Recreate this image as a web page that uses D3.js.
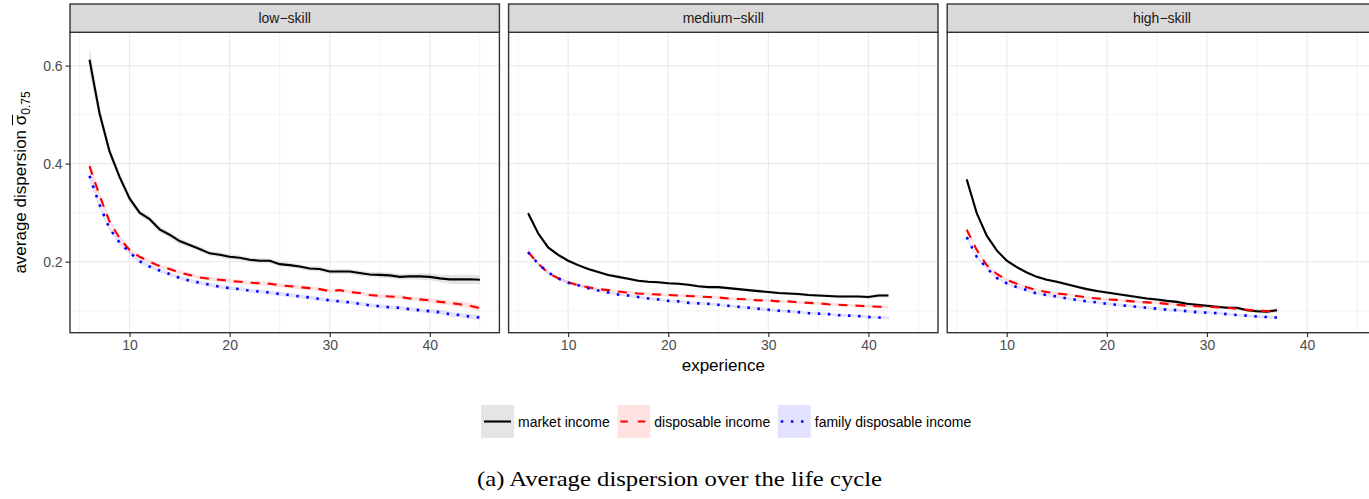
<!DOCTYPE html>
<html>
<head>
<meta charset="utf-8">
<script src="https://cdn.jsdelivr.net/npm/d3@7"></script>
<style>
  body { margin: 0; background: white; }
  text { font-family: "Liberation Sans", Arial, sans-serif; }
  text.caption { font-family: "Liberation Serif", "DejaVu Serif", serif; }
</style>
</head>
<body>
<svg id="graph" width="1369" height="499"></svg>
<script>
// facet labels and legend entries
const skills = ["low−skill", "medium−skill", "high−skill"]
const series_names = ["market income", "disposable income", "family disposable income"]

const x_ticks = [10, 20, 30, 40]
const x_minor = [5, 15, 25, 35, 45]
const y_ticks = [0.2, 0.4, 0.6]
const y_minor = [0.1, 0.3, 0.5]

// low-skill, experience 6..45
const exp_low = [6,7,8,9,10,11,12,13,14,15,16,17,18,19,20,21,22,23,24,25,26,27,28,29,30,31,32,33,34,35,36,37,38,39,40,41,42,43,44,45]
const low_market = [0.612,0.503,0.425,0.373,0.329,0.300,0.287,0.266,0.255,0.242,0.234,0.226,0.217,0.214,0.210,0.208,0.204,0.202,0.202,0.195,0.193,0.190,0.186,0.185,0.180,0.180,0.180,0.177,0.174,0.173,0.172,0.169,0.170,0.170,0.169,0.166,0.164,0.164,0.164,0.163]
const low_disp = [0.395,0.335,0.282,0.248,0.224,0.210,0.200,0.191,0.185,0.178,0.173,0.168,0.165,0.163,0.161,0.159,0.157,0.156,0.155,0.152,0.150,0.148,0.146,0.144,0.140,0.142,0.138,0.136,0.132,0.130,0.129,0.128,0.125,0.123,0.121,0.118,0.116,0.113,0.110,0.105]
const low_family = [0.375,0.316,0.268,0.239,0.219,0.201,0.190,0.182,0.175,0.167,0.161,0.157,0.153,0.149,0.146,0.144,0.141,0.139,0.137,0.134,0.132,0.129,0.127,0.124,0.121,0.119,0.117,0.114,0.111,0.109,0.107,0.106,0.103,0.101,0.099,0.097,0.093,0.091,0.088,0.086]
const low_market_ci = [0.028,0.014,0.010,0.008,0.007,0.006,0.006,0.006,0.006,0.006,0.005,0.005,0.005,0.005,0.005,0.005,0.005,0.005,0.005,0.005,0.005,0.005,0.005,0.005,0.005,0.005,0.005,0.005,0.005,0.006,0.006,0.006,0.006,0.007,0.007,0.008,0.009,0.010,0.010,0.009]
const low_disp_ci = [0.014,0.008,0.006,0.005,0.005,0.004,0.004,0.004,0.004,0.004,0.004,0.004,0.004,0.004,0.004,0.004,0.004,0.004,0.004,0.004,0.004,0.004,0.004,0.004,0.004,0.004,0.004,0.004,0.004,0.004,0.004,0.004,0.004,0.005,0.005,0.005,0.005,0.006,0.006,0.006]
const low_family_ci = [0.012,0.007,0.005,0.005,0.004,0.004,0.004,0.004,0.004,0.004,0.004,0.004,0.004,0.004,0.004,0.004,0.004,0.004,0.004,0.004,0.004,0.004,0.004,0.004,0.004,0.004,0.004,0.004,0.004,0.004,0.004,0.004,0.004,0.004,0.004,0.005,0.005,0.005,0.005,0.005]

// medium-skill, experience 6..42
const exp_med = [6,7,8,9,10,11,12,13,14,15,16,17,18,19,20,21,22,23,24,25,26,27,28,29,30,31,32,33,34,35,36,37,38,39,40,41,42]
const med_market = [0.299,0.258,0.229,0.214,0.202,0.193,0.185,0.179,0.173,0.169,0.165,0.161,0.159,0.158,0.156,0.155,0.153,0.150,0.148,0.148,0.146,0.144,0.142,0.140,0.138,0.136,0.135,0.134,0.132,0.131,0.130,0.129,0.129,0.129,0.128,0.131,0.131]
const med_disp = [0.220,0.196,0.177,0.166,0.158,0.152,0.148,0.144,0.142,0.139,0.137,0.135,0.134,0.133,0.132,0.131,0.130,0.129,0.128,0.127,0.125,0.124,0.123,0.121,0.121,0.119,0.119,0.117,0.116,0.115,0.113,0.112,0.111,0.110,0.109,0.108,0.107]
const med_family = [0.219,0.196,0.178,0.166,0.157,0.152,0.146,0.141,0.137,0.133,0.131,0.128,0.125,0.123,0.120,0.119,0.116,0.115,0.114,0.112,0.110,0.108,0.106,0.104,0.102,0.100,0.099,0.097,0.095,0.094,0.093,0.091,0.090,0.089,0.087,0.086,0.085]
const med_market_ci = [0.005,0.004,0.003,0.003,0.003,0.003,0.003,0.003,0.003,0.003,0.003,0.003,0.003,0.003,0.003,0.003,0.003,0.003,0.003,0.003,0.003,0.003,0.003,0.003,0.003,0.003,0.003,0.003,0.003,0.003,0.003,0.003,0.003,0.003,0.004,0.004,0.004]
const med_disp_ci = [0.004,0.003,0.003,0.003,0.003,0.003,0.003,0.003,0.003,0.003,0.003,0.003,0.003,0.003,0.003,0.003,0.003,0.003,0.003,0.003,0.003,0.003,0.003,0.003,0.003,0.003,0.003,0.003,0.003,0.003,0.003,0.003,0.003,0.003,0.003,0.003,0.003]
const med_family_ci = [0.004,0.003,0.003,0.003,0.003,0.003,0.003,0.003,0.003,0.003,0.003,0.003,0.003,0.003,0.003,0.003,0.003,0.003,0.003,0.003,0.003,0.003,0.003,0.003,0.003,0.003,0.003,0.003,0.003,0.003,0.003,0.003,0.003,0.003,0.003,0.003,0.003]

// high-skill, experience 6..37
const exp_high = [6,7,8,9,10,11,12,13,14,15,16,17,18,19,20,21,22,23,24,25,26,27,28,29,30,31,32,33,34,35,36,37]
const high_market = [0.368,0.299,0.253,0.223,0.202,0.189,0.178,0.169,0.163,0.159,0.154,0.149,0.144,0.140,0.137,0.134,0.131,0.128,0.125,0.123,0.120,0.118,0.114,0.112,0.110,0.108,0.106,0.106,0.101,0.099,0.098,0.101]
const high_disp = [0.265,0.224,0.193,0.175,0.163,0.155,0.148,0.142,0.138,0.135,0.133,0.130,0.127,0.125,0.123,0.122,0.120,0.118,0.117,0.116,0.114,0.112,0.110,0.109,0.108,0.107,0.106,0.104,0.102,0.100,0.099,0.101]
const high_family = [0.250,0.210,0.187,0.167,0.156,0.148,0.142,0.135,0.132,0.129,0.125,0.122,0.119,0.117,0.114,0.112,0.110,0.108,0.106,0.104,0.102,0.101,0.099,0.097,0.096,0.095,0.093,0.091,0.090,0.088,0.087,0.086]
const high_market_ci = [0.006,0.004,0.004,0.003,0.003,0.003,0.003,0.003,0.003,0.003,0.003,0.003,0.003,0.003,0.003,0.003,0.003,0.003,0.003,0.003,0.003,0.003,0.003,0.003,0.003,0.003,0.003,0.003,0.003,0.004,0.004,0.004]
const high_disp_ci = [0.005,0.004,0.003,0.003,0.003,0.003,0.003,0.003,0.003,0.003,0.003,0.003,0.003,0.003,0.003,0.003,0.003,0.003,0.003,0.003,0.003,0.003,0.003,0.003,0.003,0.003,0.003,0.003,0.003,0.003,0.003,0.004]
const high_family_ci = [0.005,0.004,0.003,0.003,0.003,0.003,0.003,0.003,0.003,0.003,0.003,0.003,0.003,0.003,0.003,0.003,0.003,0.003,0.003,0.003,0.003,0.003,0.003,0.003,0.003,0.003,0.003,0.003,0.003,0.003,0.003,0.003]

const panels = [
  {exp: exp_low, values: [low_market, low_disp, low_family], ci: [low_market_ci, low_disp_ci, low_family_ci]},
  {exp: exp_med, values: [med_market, med_disp, med_family], ci: [med_market_ci, med_disp_ci, med_family_ci]},
  {exp: exp_high, values: [high_market, high_disp, high_family], ci: [high_market_ci, high_disp_ci, high_family_ci]},
]

const line_colors = ["#000000", "#ff0000", "#0000ff"]
const ribbon_colors = ["#7f7f7f", "#ff0000", "#0000ff"]
const ribbon_alpha = [0.2, 0.11, 0.11]
const dashes = [null, "9,8", "2.5,7.6"]
const widths = [2.1, 2.1, 2.6]

const panel_left = 70
const panel_w = 429.4
const panel_gap = 9.2
const strip_top = 4
const panel_top = 32.3
const panel_bottom = 332.7

const svg = d3.select("#graph")
svg.append("rect").attr("width", 1369).attr("height", 499).attr("fill", "white")

const x = d3.scaleLinear().domain([4.05, 46.95]).range([0, panel_w])
const y = d3.scaleLinear().domain([0.0551, 0.668]).range([panel_bottom - panel_top, 0])
const ph = panel_bottom - panel_top

panels.forEach((panel, i) => {
  const left = panel_left + i * (panel_w + panel_gap)
  const g = svg.append("g").attr("transform", `translate(${left},${panel_top})`)

  // grid
  g.selectAll(".xminor").data(x_minor).enter().append("line")
    .attr("x1", d => x(d)).attr("x2", d => x(d)).attr("y1", 0).attr("y2", ph)
    .attr("stroke", "#EBEBEB").attr("stroke-width", 0.6)
  g.selectAll(".yminor").data(y_minor).enter().append("line")
    .attr("x1", 0).attr("x2", panel_w).attr("y1", d => y(d)).attr("y2", d => y(d))
    .attr("stroke", "#EBEBEB").attr("stroke-width", 0.6)
  g.selectAll(".xmajor").data(x_ticks).enter().append("line")
    .attr("x1", d => x(d)).attr("x2", d => x(d)).attr("y1", 0).attr("y2", ph)
    .attr("stroke", "#EBEBEB").attr("stroke-width", 1.2)
  g.selectAll(".ymajor").data(y_ticks).enter().append("line")
    .attr("x1", 0).attr("x2", panel_w).attr("y1", d => y(d)).attr("y2", d => y(d))
    .attr("stroke", "#EBEBEB").attr("stroke-width", 1.2)

  // ribbons
  panel.values.forEach((vals, s) => {
    const rows = panel.exp.map((e, k) => ({e: e, v: vals[k], c: panel.ci[s][k]}))
    const area = d3.area().x(d => x(d.e)).y0(d => y(d.v - d.c)).y1(d => y(d.v + d.c))
    g.append("path").datum(rows).attr("d", area)
      .attr("fill", ribbon_colors[s]).attr("fill-opacity", ribbon_alpha[s])
  })

  // lines
  panel.values.forEach((vals, s) => {
    const rows = panel.exp.map((e, k) => ({e: e, v: vals[k]}))
    const line = d3.line().x(d => x(d.e)).y(d => y(d.v))
    g.append("path").datum(rows).attr("d", line)
      .attr("fill", "none").attr("stroke", line_colors[s]).attr("stroke-width", widths[s])
      .attr("stroke-dasharray", dashes[s])
  })

  // border
  g.append("rect").attr("width", panel_w).attr("height", ph)
    .attr("fill", "none").attr("stroke", "#333333").attr("stroke-width", 1.4)

  // strip
  svg.append("rect").attr("x", left).attr("y", strip_top).attr("width", panel_w).attr("height", panel_top - strip_top)
    .attr("fill", "#D9D9D9").attr("stroke", "#333333").attr("stroke-width", 1.4)
  svg.append("text").attr("x", left + panel_w / 2).attr("y", (strip_top + panel_top) / 2)
    .attr("text-anchor", "middle").attr("dominant-baseline", "central")
    .attr("font-size", 14).attr("fill", "#1A1A1A").text(skills[i])

  // x axis
  const xa = g.append("g").attr("transform", `translate(0,${ph})`)
    .call(d3.axisBottom(x).tickValues(x_ticks).tickSize(4.4).tickPadding(3))
  xa.select(".domain").remove()
  xa.selectAll("line").attr("stroke", "#333333").attr("stroke-width", 1.2)
  xa.selectAll("text").attr("font-size", 14).attr("fill", "#4D4D4D")

  if (i == 0) {
    const ya = g.append("g").call(d3.axisLeft(y).tickValues(y_ticks).tickSize(4.4).tickPadding(3).tickFormat(d3.format(".1f")))
    ya.select(".domain").remove()
    ya.selectAll("line").attr("stroke", "#333333").attr("stroke-width", 1.2)
    ya.selectAll("text").attr("font-size", 14).attr("fill", "#4D4D4D")
  }
})

// x axis title, centred on the middle panel
svg.append("text")
  .attr("x", panel_left + 1.5 * panel_w + panel_gap)
  .attr("y", 371)
  .attr("text-anchor", "middle")
  .attr("font-size", 17)
  .attr("fill", "#000")
  .text("experience")

// y axis title with sigma bar and subscript
const yl = svg.append("g").attr("transform", `translate(26,${(panel_top + panel_bottom) / 2}) rotate(-90)`)
const yt = yl.append("text").attr("font-size", 17).attr("fill", "#000")
yt.append("tspan").text("average dispersion σ")
yt.append("tspan").attr("font-size", 12).attr("dy", 4).text("0.75")
const total = yt.node().getComputedTextLength()
yt.attr("x", -total / 2)
const pre = yt.node().getSubStringLength(0, 19)
const sig = yt.node().getSubStringLength(19, 1)
yl.append("line")
  .attr("x1", -total / 2 + pre).attr("x2", -total / 2 + pre + sig)
  .attr("y1", -13.5).attr("y2", -13.5)
  .attr("stroke", "#000").attr("stroke-width", 1)

// legend
const legend = svg.append("g").attr("transform", "translate(481,405)")
let lx = 0
series_names.forEach((name, s) => {
  const item = legend.append("g").attr("transform", `translate(${lx},0)`)
  item.append("rect").attr("width", 33).attr("height", 33)
    .attr("fill", ribbon_colors[s]).attr("fill-opacity", ribbon_alpha[s])
  item.append("line").attr("x1", 3).attr("x2", 30).attr("y1", 16.5).attr("y2", 16.5)
    .attr("stroke", line_colors[s]).attr("stroke-width", widths[s])
    .attr("stroke-dasharray", s == 1 ? "7.5,10" : dashes[s])
  const t = item.append("text").attr("x", 37).attr("y", 16.5)
    .attr("dominant-baseline", "central").attr("font-size", 14).attr("fill", "#000").text(name)
  lx += 37 + t.node().getComputedTextLength() + 7.5
})

// caption
svg.append("text")
  .attr("class", "caption")
  .attr("x", 477).attr("y", 486)
  .attr("font-size", 21)
  .attr("textLength", 405)
  .attr("lengthAdjust", "spacingAndGlyphs")
  .attr("fill", "#000")
  .text("(a) Average dispersion over the life cycle")
</script>
</body>
</html>
